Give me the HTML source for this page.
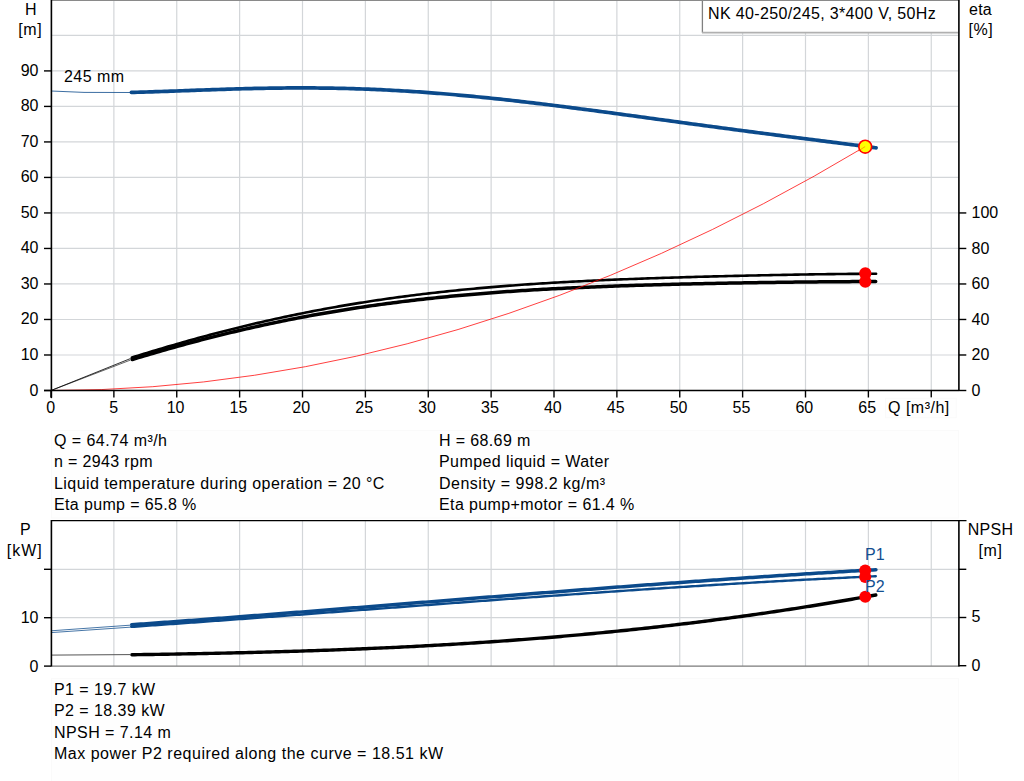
<!DOCTYPE html>
<html><head><meta charset="utf-8"><style>
html,body{margin:0;padding:0;background:#fff;}
svg{display:block;font-family:"Liberation Sans",sans-serif;}
</style></head><body>
<svg width="1024" height="781" viewBox="0 0 1024 781">
<rect x="0" y="0" width="1024" height="781" fill="#fff"/>
<line x1="113.88" y1="0" x2="113.88" y2="390" stroke="#d3d6d9" stroke-width="1.2"/>
<line x1="176.75" y1="0" x2="176.75" y2="390" stroke="#d3d6d9" stroke-width="1.2"/>
<line x1="239.62" y1="0" x2="239.62" y2="390" stroke="#d3d6d9" stroke-width="1.2"/>
<line x1="302.50" y1="0" x2="302.50" y2="390" stroke="#d3d6d9" stroke-width="1.2"/>
<line x1="365.38" y1="0" x2="365.38" y2="390" stroke="#d3d6d9" stroke-width="1.2"/>
<line x1="428.25" y1="0" x2="428.25" y2="390" stroke="#d3d6d9" stroke-width="1.2"/>
<line x1="491.12" y1="0" x2="491.12" y2="390" stroke="#d3d6d9" stroke-width="1.2"/>
<line x1="554.00" y1="0" x2="554.00" y2="390" stroke="#d3d6d9" stroke-width="1.2"/>
<line x1="616.88" y1="0" x2="616.88" y2="390" stroke="#d3d6d9" stroke-width="1.2"/>
<line x1="679.75" y1="0" x2="679.75" y2="390" stroke="#d3d6d9" stroke-width="1.2"/>
<line x1="742.62" y1="0" x2="742.62" y2="390" stroke="#d3d6d9" stroke-width="1.2"/>
<line x1="805.50" y1="0" x2="805.50" y2="390" stroke="#d3d6d9" stroke-width="1.2"/>
<line x1="868.38" y1="0" x2="868.38" y2="390" stroke="#d3d6d9" stroke-width="1.2"/>
<line x1="931.25" y1="0" x2="931.25" y2="390" stroke="#d3d6d9" stroke-width="1.2"/>
<line x1="51" y1="354.99" x2="958.5" y2="354.99" stroke="#d3d6d9" stroke-width="1.2"/>
<line x1="51" y1="319.48" x2="958.5" y2="319.48" stroke="#d3d6d9" stroke-width="1.2"/>
<line x1="51" y1="283.97" x2="958.5" y2="283.97" stroke="#d3d6d9" stroke-width="1.2"/>
<line x1="51" y1="248.46" x2="958.5" y2="248.46" stroke="#d3d6d9" stroke-width="1.2"/>
<line x1="51" y1="212.95" x2="958.5" y2="212.95" stroke="#d3d6d9" stroke-width="1.2"/>
<line x1="51" y1="177.44" x2="958.5" y2="177.44" stroke="#d3d6d9" stroke-width="1.2"/>
<line x1="51" y1="141.93" x2="958.5" y2="141.93" stroke="#d3d6d9" stroke-width="1.2"/>
<line x1="51" y1="106.42" x2="958.5" y2="106.42" stroke="#d3d6d9" stroke-width="1.2"/>
<line x1="51" y1="70.91" x2="958.5" y2="70.91" stroke="#d3d6d9" stroke-width="1.2"/>
<line x1="51" y1="35.40" x2="958.5" y2="35.40" stroke="#d3d6d9" stroke-width="1.2"/>
<line x1="51" y1="0.3" x2="959" y2="0.3" stroke="#8a8a8a" stroke-width="1.2"/>
<rect x="702.4" y="-2" width="256" height="34.8" fill="#fff" stroke="none"/>
<line x1="702.4" y1="0" x2="702.4" y2="32.7" stroke="#808080" stroke-width="1.3"/>
<line x1="702" y1="0.3" x2="959" y2="0.3" stroke="#8a8a8a" stroke-width="1.2"/>
<line x1="702" y1="32.7" x2="958" y2="32.7" stroke="#b0b0b0" stroke-width="1.8"/>
<polyline points="51,91 84,92.4 130,92.5" fill="none" stroke="#0b4a8b" stroke-width="1" opacity="0.8"/>
<polyline points="131.40,92.39 134.40,92.32 137.40,92.24 140.40,92.16 143.40,92.08 146.40,91.99 149.40,91.90 152.40,91.80 155.40,91.71 158.40,91.61 161.40,91.51 164.40,91.40 167.40,91.30 170.40,91.19 173.40,91.09 176.40,90.98 179.40,90.87 182.40,90.76 185.40,90.65 188.40,90.54 191.40,90.43 194.40,90.32 197.40,90.21 200.40,90.10 203.40,90.00 206.40,89.89 209.40,89.79 212.40,89.68 215.40,89.58 218.40,89.48 221.40,89.38 224.40,89.28 227.40,89.19 230.40,89.10 233.40,89.01 236.40,88.92 239.40,88.84 242.40,88.76 245.40,88.68 248.40,88.61 251.40,88.53 254.40,88.47 257.40,88.40 260.40,88.34 263.40,88.28 266.40,88.23 269.40,88.18 272.40,88.14 275.40,88.10 278.40,88.06 281.40,88.03 284.40,88.00 287.40,87.97 290.40,87.96 293.40,87.94 296.40,87.93 299.40,87.93 302.40,87.92 305.40,87.93 308.40,87.94 311.40,87.95 314.40,87.97 317.40,88.00 320.40,88.03 323.40,88.06 326.40,88.10 329.40,88.14 332.40,88.19 335.40,88.25 338.40,88.31 341.40,88.38 344.40,88.45 347.40,88.52 350.40,88.60 353.40,88.69 356.40,88.78 359.40,88.88 362.40,88.99 365.40,89.09 368.40,89.21 371.40,89.33 374.40,89.45 377.40,89.58 380.40,89.72 383.40,89.86 386.40,90.01 389.40,90.16 392.40,90.31 395.40,90.48 398.40,90.64 401.40,90.82 404.40,90.99 407.40,91.18 410.40,91.37 413.40,91.56 416.40,91.76 419.40,91.96 422.40,92.17 425.40,92.38 428.40,92.60 431.40,92.82 434.40,93.05 437.40,93.29 440.40,93.52 443.40,93.77 446.40,94.01 449.40,94.26 452.40,94.52 455.40,94.78 458.40,95.05 461.40,95.32 464.40,95.59 467.40,95.87 470.40,96.15 473.40,96.44 476.40,96.73 479.40,97.02 482.40,97.32 485.40,97.62 488.40,97.93 491.40,98.24 494.40,98.55 497.40,98.87 500.40,99.19 503.40,99.52 506.40,99.85 509.40,100.18 512.40,100.51 515.40,100.85 518.40,101.19 521.40,101.54 524.40,101.88 527.40,102.23 530.40,102.59 533.40,102.94 536.40,103.30 539.40,103.66 542.40,104.03 545.40,104.40 548.40,104.76 551.40,105.14 554.40,105.51 557.40,105.89 560.40,106.26 563.40,106.64 566.40,107.03 569.40,107.41 572.40,107.80 575.40,108.18 578.40,108.57 581.40,108.96 584.40,109.36 587.40,109.75 590.40,110.15 593.40,110.54 596.40,110.94 599.40,111.34 602.40,111.74 605.40,112.14 608.40,112.54 611.40,112.95 614.40,113.35 617.40,113.76 620.40,114.16 623.40,114.57 626.40,114.98 629.40,115.38 632.40,115.79 635.40,116.20 638.40,116.61 641.40,117.02 644.40,117.43 647.40,117.84 650.40,118.25 653.40,118.66 656.40,119.07 659.40,119.47 662.40,119.88 665.40,120.29 668.40,120.70 671.40,121.11 674.40,121.52 677.40,121.93 680.40,122.34 683.40,122.74 686.40,123.15 689.40,123.56 692.40,123.97 695.40,124.37 698.40,124.78 701.40,125.18 704.40,125.58 707.40,125.99 710.40,126.39 713.40,126.79 716.40,127.19 719.40,127.59 722.40,127.99 725.40,128.39 728.40,128.79 731.40,129.19 734.40,129.58 737.40,129.98 740.40,130.37 743.40,130.77 746.40,131.16 749.40,131.55 752.40,131.95 755.40,132.34 758.40,132.73 761.40,133.12 764.40,133.50 767.40,133.89 770.40,134.28 773.40,134.67 776.40,135.05 779.40,135.44 782.40,135.82 785.40,136.21 788.40,136.59 791.40,136.97 794.40,137.35 797.40,137.74 800.40,138.12 803.40,138.50 806.40,138.88 809.40,139.26 812.40,139.64 815.40,140.03 818.40,140.41 821.40,140.79 824.40,141.17 827.40,141.55 830.40,141.93 833.40,142.32 836.40,142.70 839.40,143.08 842.40,143.47 845.40,143.85 848.40,144.24 851.40,144.63 854.40,145.01 857.40,145.40 860.40,145.79 863.40,146.19 866.40,146.58 869.40,146.98 872.40,147.38 875.40,147.78 876.10,147.87" fill="none" stroke="#0b4a8b" stroke-width="3.7" stroke-linecap="round" stroke-linejoin="round"/>
<line x1="51" y1="390.5" x2="130.6" y2="358.5" stroke="#000" stroke-width="1" opacity="0.8"/>
<line x1="51" y1="390.5" x2="130.6" y2="360" stroke="#000" stroke-width="1" opacity="0.6"/>
<polyline points="132.30,359.46 135.30,358.55 138.30,357.65 141.30,356.75 144.30,355.85 147.30,354.96 150.30,354.08 153.30,353.20 156.30,352.33 159.30,351.46 162.30,350.60 165.30,349.75 168.30,348.89 171.30,348.05 174.30,347.21 177.30,346.38 180.30,345.55 183.30,344.73 186.30,343.92 189.30,343.11 192.30,342.30 195.30,341.51 198.30,340.72 201.30,339.93 204.30,339.15 207.30,338.38 210.30,337.61 213.30,336.85 216.30,336.10 219.30,335.35 222.30,334.61 225.30,333.88 228.30,333.15 231.30,332.42 234.30,331.71 237.30,331.00 240.30,330.30 243.30,329.60 246.30,328.91 249.30,328.22 252.30,327.55 255.30,326.88 258.30,326.21 261.30,325.55 264.30,324.90 267.30,324.25 270.30,323.62 273.30,322.98 276.30,322.36 279.30,321.74 282.30,321.12 285.30,320.52 288.30,319.91 291.30,319.32 294.30,318.73 297.30,318.15 300.30,317.57 303.30,317.01 306.30,316.44 309.30,315.89 312.30,315.34 315.30,314.79 318.30,314.25 321.30,313.72 324.30,313.20 327.30,312.68 330.30,312.17 333.30,311.66 336.30,311.16 339.30,310.66 342.30,310.18 345.30,309.69 348.30,309.22 351.30,308.75 354.30,308.28 357.30,307.82 360.30,307.37 363.30,306.92 366.30,306.48 369.30,306.05 372.30,305.62 375.30,305.19 378.30,304.78 381.30,304.36 384.30,303.96 387.30,303.56 390.30,303.16 393.30,302.77 396.30,302.39 399.30,302.01 402.30,301.63 405.30,301.27 408.30,300.90 411.30,300.54 414.30,300.19 417.30,299.84 420.30,299.50 423.30,299.17 426.30,298.83 429.30,298.51 432.30,298.18 435.30,297.87 438.30,297.56 441.30,297.25 444.30,296.95 447.30,296.65 450.30,296.35 453.30,296.07 456.30,295.78 459.30,295.50 462.30,295.23 465.30,294.96 468.30,294.69 471.30,294.43 474.30,294.17 477.30,293.92 480.30,293.67 483.30,293.43 486.30,293.19 489.30,292.95 492.30,292.72 495.30,292.49 498.30,292.27 501.30,292.05 504.30,291.83 507.30,291.62 510.30,291.41 513.30,291.20 516.30,291.00 519.30,290.80 522.30,290.61 525.30,290.42 528.30,290.23 531.30,290.05 534.30,289.87 537.30,289.69 540.30,289.51 543.30,289.34 546.30,289.18 549.30,289.01 552.30,288.85 555.30,288.69 558.30,288.53 561.30,288.38 564.30,288.23 567.30,288.08 570.30,287.94 573.30,287.80 576.30,287.66 579.30,287.52 582.30,287.39 585.30,287.26 588.30,287.13 591.30,287.00 594.30,286.88 597.30,286.75 600.30,286.63 603.30,286.52 606.30,286.40 609.30,286.29 612.30,286.18 615.30,286.07 618.30,285.96 621.30,285.86 624.30,285.75 627.30,285.65 630.30,285.55 633.30,285.46 636.30,285.36 639.30,285.27 642.30,285.18 645.30,285.09 648.30,285.00 651.30,284.91 654.30,284.82 657.30,284.74 660.30,284.66 663.30,284.58 666.30,284.50 669.30,284.42 672.30,284.34 675.30,284.27 678.30,284.19 681.30,284.12 684.30,284.05 687.30,283.98 690.30,283.91 693.30,283.84 696.30,283.77 699.30,283.71 702.30,283.64 705.30,283.58 708.30,283.52 711.30,283.46 714.30,283.40 717.30,283.34 720.30,283.28 723.30,283.22 726.30,283.17 729.30,283.11 732.30,283.06 735.30,283.00 738.30,282.95 741.30,282.90 744.30,282.85 747.30,282.80 750.30,282.75 753.30,282.70 756.30,282.65 759.30,282.61 762.30,282.56 765.30,282.52 768.30,282.47 771.30,282.43 774.30,282.39 777.30,282.34 780.30,282.30 783.30,282.26 786.30,282.22 789.30,282.19 792.30,282.15 795.30,282.11 798.30,282.08 801.30,282.04 804.30,282.01 807.30,281.98 810.30,281.95 813.30,281.92 816.30,281.89 819.30,281.86 822.30,281.83 825.30,281.80 828.30,281.78 831.30,281.76 834.30,281.73 837.30,281.71 840.30,281.69 843.30,281.67 846.30,281.65 849.30,281.64 852.30,281.62 855.30,281.61 858.30,281.60 861.30,281.58 864.30,281.58 867.30,281.57 870.30,281.56 873.30,281.56 875.70,281.56" fill="none" stroke="#000" stroke-width="3.5" stroke-linecap="round" stroke-linejoin="round"/>
<polyline points="131.90,357.52 134.90,356.59 137.90,355.66 140.90,354.73 143.90,353.81 146.90,352.89 149.90,351.98 152.90,351.08 155.90,350.18 158.90,349.28 161.90,348.39 164.90,347.50 167.90,346.62 170.90,345.75 173.90,344.88 176.90,344.01 179.90,343.15 182.90,342.30 185.90,341.45 188.90,340.61 191.90,339.77 194.90,338.94 197.90,338.11 200.90,337.30 203.90,336.48 206.90,335.67 209.90,334.87 212.90,334.08 215.90,333.29 218.90,332.51 221.90,331.73 224.90,330.96 227.90,330.19 230.90,329.43 233.90,328.68 236.90,327.94 239.90,327.20 242.90,326.46 245.90,325.74 248.90,325.02 251.90,324.30 254.90,323.59 257.90,322.89 260.90,322.20 263.90,321.51 266.90,320.83 269.90,320.15 272.90,319.48 275.90,318.82 278.90,318.17 281.90,317.52 284.90,316.87 287.90,316.24 290.90,315.61 293.90,314.98 296.90,314.37 299.90,313.76 302.90,313.15 305.90,312.55 308.90,311.96 311.90,311.38 314.90,310.80 317.90,310.23 320.90,309.66 323.90,309.10 326.90,308.55 329.90,308.00 332.90,307.46 335.90,306.93 338.90,306.40 341.90,305.88 344.90,305.37 347.90,304.86 350.90,304.36 353.90,303.86 356.90,303.37 359.90,302.89 362.90,302.41 365.90,301.94 368.90,301.47 371.90,301.01 374.90,300.56 377.90,300.11 380.90,299.67 383.90,299.23 386.90,298.80 389.90,298.38 392.90,297.96 395.90,297.54 398.90,297.14 401.90,296.74 404.90,296.34 407.90,295.95 410.90,295.56 413.90,295.18 416.90,294.81 419.90,294.44 422.90,294.08 425.90,293.72 428.90,293.37 431.90,293.02 434.90,292.68 437.90,292.34 440.90,292.01 443.90,291.68 446.90,291.36 449.90,291.04 452.90,290.73 455.90,290.42 458.90,290.12 461.90,289.82 464.90,289.53 467.90,289.24 470.90,288.96 473.90,288.68 476.90,288.40 479.90,288.13 482.90,287.86 485.90,287.60 488.90,287.35 491.90,287.09 494.90,286.84 497.90,286.60 500.90,286.36 503.90,286.12 506.90,285.89 509.90,285.66 512.90,285.43 515.90,285.21 518.90,284.99 521.90,284.78 524.90,284.57 527.90,284.36 530.90,284.16 533.90,283.96 536.90,283.76 539.90,283.57 542.90,283.38 545.90,283.19 548.90,283.00 551.90,282.82 554.90,282.65 557.90,282.47 560.90,282.30 563.90,282.13 566.90,281.97 569.90,281.80 572.90,281.64 575.90,281.49 578.90,281.33 581.90,281.18 584.90,281.03 587.90,280.88 590.90,280.74 593.90,280.60 596.90,280.46 599.90,280.32 602.90,280.19 605.90,280.05 608.90,279.92 611.90,279.80 614.90,279.67 617.90,279.55 620.90,279.42 623.90,279.30 626.90,279.18 629.90,279.07 632.90,278.95 635.90,278.84 638.90,278.73 641.90,278.62 644.90,278.51 647.90,278.41 650.90,278.30 653.90,278.20 656.90,278.10 659.90,278.00 662.90,277.90 665.90,277.80 668.90,277.71 671.90,277.61 674.90,277.52 677.90,277.43 680.90,277.34 683.90,277.25 686.90,277.16 689.90,277.08 692.90,276.99 695.90,276.91 698.90,276.82 701.90,276.74 704.90,276.66 707.90,276.58 710.90,276.50 713.90,276.42 716.90,276.35 719.90,276.27 722.90,276.19 725.90,276.12 728.90,276.05 731.90,275.97 734.90,275.90 737.90,275.83 740.90,275.76 743.90,275.69 746.90,275.63 749.90,275.56 752.90,275.49 755.90,275.43 758.90,275.36 761.90,275.30 764.90,275.24 767.90,275.18 770.90,275.12 773.90,275.06 776.90,275.00 779.90,274.94 782.90,274.88 785.90,274.83 788.90,274.77 791.90,274.72 794.90,274.66 797.90,274.61 800.90,274.56 803.90,274.51 806.90,274.46 809.90,274.41 812.90,274.37 815.90,274.32 818.90,274.28 821.90,274.23 824.90,274.19 827.90,274.15 830.90,274.11 833.90,274.08 836.90,274.04 839.90,274.00 842.90,273.97 845.90,273.94 848.90,273.91 851.90,273.88 854.90,273.85 857.90,273.83 860.90,273.81 863.90,273.79 866.90,273.77 869.90,273.75 872.90,273.73 875.90,273.72 876.10,273.72" fill="none" stroke="#000" stroke-width="2.6" stroke-linecap="round" stroke-linejoin="round"/>
<path d="M51,390.5 Q458.05,390.5 865.11,146.58" fill="none" stroke="#ff0000" stroke-width="0.75"/>
<circle cx="865.3" cy="273.4" r="6.1" fill="#ff0000"/>
<circle cx="865.3" cy="281.6" r="6.1" fill="#ff0000"/>
<circle cx="865.2" cy="146.7" r="6.4" fill="#ffff00" stroke="#ff0000" stroke-width="1.6"/>
<path d="M858.11,151.08 L865.11,146.58" stroke="#ff6000" stroke-width="0.8" opacity="0.7"/>
<line x1="51.4" y1="0" x2="51.4" y2="397.5" stroke="#000" stroke-width="1.6" stroke-linecap="round"/>
<line x1="44" y1="390.45" x2="959" y2="390.45" stroke="#000" stroke-width="1.4"/>
<line x1="958.9" y1="0" x2="958.9" y2="390.5" stroke="#000" stroke-width="1.6"/>
<line x1="44" y1="390.50" x2="51" y2="390.50" stroke="#000" stroke-width="1.4"/>
<line x1="44" y1="354.99" x2="51" y2="354.99" stroke="#000" stroke-width="1.4"/>
<line x1="44" y1="319.48" x2="51" y2="319.48" stroke="#000" stroke-width="1.4"/>
<line x1="44" y1="283.97" x2="51" y2="283.97" stroke="#000" stroke-width="1.4"/>
<line x1="44" y1="248.46" x2="51" y2="248.46" stroke="#000" stroke-width="1.4"/>
<line x1="44" y1="212.95" x2="51" y2="212.95" stroke="#000" stroke-width="1.4"/>
<line x1="44" y1="177.44" x2="51" y2="177.44" stroke="#000" stroke-width="1.4"/>
<line x1="44" y1="141.93" x2="51" y2="141.93" stroke="#000" stroke-width="1.4"/>
<line x1="44" y1="106.42" x2="51" y2="106.42" stroke="#000" stroke-width="1.4"/>
<line x1="44" y1="70.91" x2="51" y2="70.91" stroke="#000" stroke-width="1.4"/>
<line x1="959" y1="390.50" x2="966.3" y2="390.50" stroke="#000" stroke-width="1.4"/>
<line x1="959" y1="354.99" x2="966.3" y2="354.99" stroke="#000" stroke-width="1.4"/>
<line x1="959" y1="319.48" x2="966.3" y2="319.48" stroke="#000" stroke-width="1.4"/>
<line x1="959" y1="283.97" x2="966.3" y2="283.97" stroke="#000" stroke-width="1.4"/>
<line x1="959" y1="248.46" x2="966.3" y2="248.46" stroke="#000" stroke-width="1.4"/>
<line x1="959" y1="212.95" x2="966.3" y2="212.95" stroke="#000" stroke-width="1.4"/>
<line x1="51.00" y1="390.5" x2="51.00" y2="397.5" stroke="#000" stroke-width="1.4"/>
<line x1="113.88" y1="390.5" x2="113.88" y2="397.5" stroke="#000" stroke-width="1.4"/>
<line x1="176.75" y1="390.5" x2="176.75" y2="397.5" stroke="#000" stroke-width="1.4"/>
<line x1="239.62" y1="390.5" x2="239.62" y2="397.5" stroke="#000" stroke-width="1.4"/>
<line x1="302.50" y1="390.5" x2="302.50" y2="397.5" stroke="#000" stroke-width="1.4"/>
<line x1="365.38" y1="390.5" x2="365.38" y2="397.5" stroke="#000" stroke-width="1.4"/>
<line x1="428.25" y1="390.5" x2="428.25" y2="397.5" stroke="#000" stroke-width="1.4"/>
<line x1="491.12" y1="390.5" x2="491.12" y2="397.5" stroke="#000" stroke-width="1.4"/>
<line x1="554.00" y1="390.5" x2="554.00" y2="397.5" stroke="#000" stroke-width="1.4"/>
<line x1="616.88" y1="390.5" x2="616.88" y2="397.5" stroke="#000" stroke-width="1.4"/>
<line x1="679.75" y1="390.5" x2="679.75" y2="397.5" stroke="#000" stroke-width="1.4"/>
<line x1="742.62" y1="390.5" x2="742.62" y2="397.5" stroke="#000" stroke-width="1.4"/>
<line x1="805.50" y1="390.5" x2="805.50" y2="397.5" stroke="#000" stroke-width="1.4"/>
<line x1="868.38" y1="390.5" x2="868.38" y2="397.5" stroke="#000" stroke-width="1.4"/>
<line x1="931.25" y1="390.5" x2="931.25" y2="397.5" stroke="#000" stroke-width="1.4"/>
<line x1="113.88" y1="520.5" x2="113.88" y2="666" stroke="#d3d6d9" stroke-width="1.2"/>
<line x1="176.75" y1="520.5" x2="176.75" y2="666" stroke="#d3d6d9" stroke-width="1.2"/>
<line x1="239.62" y1="520.5" x2="239.62" y2="666" stroke="#d3d6d9" stroke-width="1.2"/>
<line x1="302.50" y1="520.5" x2="302.50" y2="666" stroke="#d3d6d9" stroke-width="1.2"/>
<line x1="365.38" y1="520.5" x2="365.38" y2="666" stroke="#d3d6d9" stroke-width="1.2"/>
<line x1="428.25" y1="520.5" x2="428.25" y2="666" stroke="#d3d6d9" stroke-width="1.2"/>
<line x1="491.12" y1="520.5" x2="491.12" y2="666" stroke="#d3d6d9" stroke-width="1.2"/>
<line x1="554.00" y1="520.5" x2="554.00" y2="666" stroke="#d3d6d9" stroke-width="1.2"/>
<line x1="616.88" y1="520.5" x2="616.88" y2="666" stroke="#d3d6d9" stroke-width="1.2"/>
<line x1="679.75" y1="520.5" x2="679.75" y2="666" stroke="#d3d6d9" stroke-width="1.2"/>
<line x1="742.62" y1="520.5" x2="742.62" y2="666" stroke="#d3d6d9" stroke-width="1.2"/>
<line x1="805.50" y1="520.5" x2="805.50" y2="666" stroke="#d3d6d9" stroke-width="1.2"/>
<line x1="868.38" y1="520.5" x2="868.38" y2="666" stroke="#d3d6d9" stroke-width="1.2"/>
<line x1="931.25" y1="520.5" x2="931.25" y2="666" stroke="#d3d6d9" stroke-width="1.2"/>
<line x1="51" y1="617.70" x2="958.5" y2="617.70" stroke="#d3d6d9" stroke-width="1.2"/>
<line x1="51" y1="569.30" x2="958.5" y2="569.30" stroke="#d3d6d9" stroke-width="1.2"/>
<line x1="51" y1="666.1" x2="959" y2="666.1" stroke="#7a7a7a" stroke-width="1.2"/>
<line x1="51" y1="520.6" x2="966.5" y2="520.6" stroke="#000" stroke-width="1.3"/>
<line x1="51" y1="655.1" x2="130" y2="654.6" stroke="#555" stroke-width="1"/>
<polyline points="131.90,654.75 134.90,654.70 137.90,654.66 140.90,654.61 143.90,654.57 146.90,654.52 149.90,654.48 152.90,654.43 155.90,654.38 158.90,654.33 161.90,654.28 164.90,654.24 167.90,654.19 170.90,654.13 173.90,654.08 176.90,654.03 179.90,653.98 182.90,653.92 185.90,653.87 188.90,653.82 191.90,653.76 194.90,653.70 197.90,653.65 200.90,653.59 203.90,653.53 206.90,653.47 209.90,653.41 212.90,653.35 215.90,653.28 218.90,653.22 221.90,653.16 224.90,653.09 227.90,653.02 230.90,652.96 233.90,652.89 236.90,652.82 239.90,652.75 242.90,652.68 245.90,652.61 248.90,652.53 251.90,652.46 254.90,652.38 257.90,652.31 260.90,652.23 263.90,652.15 266.90,652.07 269.90,651.99 272.90,651.91 275.90,651.82 278.90,651.74 281.90,651.65 284.90,651.56 287.90,651.47 290.90,651.38 293.90,651.29 296.90,651.20 299.90,651.11 302.90,651.01 305.90,650.91 308.90,650.82 311.90,650.72 314.90,650.62 317.90,650.52 320.90,650.41 323.90,650.31 326.90,650.20 329.90,650.09 332.90,649.98 335.90,649.87 338.90,649.76 341.90,649.65 344.90,649.53 347.90,649.41 350.90,649.30 353.90,649.18 356.90,649.05 359.90,648.93 362.90,648.81 365.90,648.68 368.90,648.55 371.90,648.42 374.90,648.29 377.90,648.16 380.90,648.02 383.90,647.89 386.90,647.75 389.90,647.61 392.90,647.47 395.90,647.33 398.90,647.18 401.90,647.03 404.90,646.89 407.90,646.74 410.90,646.58 413.90,646.43 416.90,646.27 419.90,646.12 422.90,645.96 425.90,645.80 428.90,645.63 431.90,645.47 434.90,645.30 437.90,645.13 440.90,644.96 443.90,644.79 446.90,644.62 449.90,644.44 452.90,644.26 455.90,644.08 458.90,643.90 461.90,643.71 464.90,643.53 467.90,643.34 470.90,643.15 473.90,642.96 476.90,642.76 479.90,642.56 482.90,642.37 485.90,642.16 488.90,641.96 491.90,641.76 494.90,641.55 497.90,641.34 500.90,641.13 503.90,640.91 506.90,640.70 509.90,640.48 512.90,640.26 515.90,640.04 518.90,639.81 521.90,639.59 524.90,639.36 527.90,639.13 530.90,638.89 533.90,638.66 536.90,638.42 539.90,638.18 542.90,637.94 545.90,637.69 548.90,637.45 551.90,637.20 554.90,636.95 557.90,636.69 560.90,636.44 563.90,636.18 566.90,635.92 569.90,635.65 572.90,635.39 575.90,635.12 578.90,634.85 581.90,634.57 584.90,634.30 587.90,634.02 590.90,633.74 593.90,633.46 596.90,633.17 599.90,632.89 602.90,632.60 605.90,632.30 608.90,632.01 611.90,631.71 614.90,631.41 617.90,631.11 620.90,630.80 623.90,630.50 626.90,630.19 629.90,629.87 632.90,629.56 635.90,629.24 638.90,628.92 641.90,628.60 644.90,628.27 647.90,627.94 650.90,627.61 653.90,627.28 656.90,626.95 659.90,626.61 662.90,626.27 665.90,625.92 668.90,625.58 671.90,625.23 674.90,624.88 677.90,624.52 680.90,624.16 683.90,623.81 686.90,623.44 689.90,623.08 692.90,622.71 695.90,622.34 698.90,621.97 701.90,621.59 704.90,621.21 707.90,620.83 710.90,620.45 713.90,620.06 716.90,619.67 719.90,619.28 722.90,618.88 725.90,618.49 728.90,618.09 731.90,617.68 734.90,617.28 737.90,616.87 740.90,616.46 743.90,616.04 746.90,615.62 749.90,615.20 752.90,614.78 755.90,614.36 758.90,613.93 761.90,613.50 764.90,613.06 767.90,612.62 770.90,612.18 773.90,611.74 776.90,611.30 779.90,610.85 782.90,610.40 785.90,609.94 788.90,609.48 791.90,609.02 794.90,608.56 797.90,608.10 800.90,607.63 803.90,607.15 806.90,606.68 809.90,606.20 812.90,605.72 815.90,605.24 818.90,604.75 821.90,604.26 824.90,603.77 827.90,603.27 830.90,602.78 833.90,602.28 836.90,601.77 839.90,601.26 842.90,600.75 845.90,600.24 848.90,599.72 851.90,599.21 854.90,598.68 857.90,598.16 860.90,597.63 863.90,597.10 866.90,596.57 869.90,596.03 872.90,595.49 875.80,594.96" fill="none" stroke="#000" stroke-width="3.4" stroke-linecap="round" stroke-linejoin="round"/>
<line x1="51" y1="630.8" x2="130" y2="625.2" stroke="#0b4a8b" stroke-width="1" opacity="0.75"/>
<line x1="51" y1="632.6" x2="130" y2="627.2" stroke="#0b4a8b" stroke-width="1" opacity="0.75"/>
<polyline points="131.20,626.88 134.20,626.68 137.20,626.47 140.20,626.26 143.20,626.05 146.20,625.84 149.20,625.63 152.20,625.42 155.20,625.21 158.20,625.00 161.20,624.79 164.20,624.58 167.20,624.36 170.20,624.15 173.20,623.94 176.20,623.72 179.20,623.51 182.20,623.29 185.20,623.08 188.20,622.86 191.20,622.65 194.20,622.43 197.20,622.22 200.20,622.00 203.20,621.78 206.20,621.56 209.20,621.35 212.20,621.13 215.20,620.91 218.20,620.69 221.20,620.47 224.20,620.25 227.20,620.03 230.20,619.81 233.20,619.59 236.20,619.37 239.20,619.15 242.20,618.93 245.20,618.71 248.20,618.48 251.20,618.26 254.20,618.04 257.20,617.82 260.20,617.59 263.20,617.37 266.20,617.15 269.20,616.92 272.20,616.70 275.20,616.48 278.20,616.25 281.20,616.03 284.20,615.80 287.20,615.58 290.20,615.35 293.20,615.13 296.20,614.90 299.20,614.68 302.20,614.45 305.20,614.23 308.20,614.00 311.20,613.78 314.20,613.55 317.20,613.32 320.20,613.10 323.20,612.87 326.20,612.65 329.20,612.42 332.20,612.19 335.20,611.97 338.20,611.74 341.20,611.51 344.20,611.29 347.20,611.06 350.20,610.83 353.20,610.60 356.20,610.38 359.20,610.15 362.20,609.92 365.20,609.70 368.20,609.47 371.20,609.24 374.20,609.01 377.20,608.79 380.20,608.56 383.20,608.33 386.20,608.11 389.20,607.88 392.20,607.65 395.20,607.43 398.20,607.20 401.20,606.97 404.20,606.75 407.20,606.52 410.20,606.29 413.20,606.07 416.20,605.84 419.20,605.61 422.20,605.39 425.20,605.16 428.20,604.94 431.20,604.71 434.20,604.49 437.20,604.26 440.20,604.03 443.20,603.81 446.20,603.58 449.20,603.36 452.20,603.14 455.20,602.91 458.20,602.69 461.20,602.46 464.20,602.24 467.20,602.02 470.20,601.79 473.20,601.57 476.20,601.35 479.20,601.12 482.20,600.90 485.20,600.68 488.20,600.46 491.20,600.23 494.20,600.01 497.20,599.79 500.20,599.57 503.20,599.35 506.20,599.13 509.20,598.91 512.20,598.69 515.20,598.47 518.20,598.25 521.20,598.03 524.20,597.81 527.20,597.60 530.20,597.38 533.20,597.16 536.20,596.94 539.20,596.73 542.20,596.51 545.20,596.29 548.20,596.08 551.20,595.86 554.20,595.65 557.20,595.43 560.20,595.22 563.20,595.01 566.20,594.79 569.20,594.58 572.20,594.37 575.20,594.16 578.20,593.95 581.20,593.73 584.20,593.52 587.20,593.31 590.20,593.10 593.20,592.90 596.20,592.69 599.20,592.48 602.20,592.27 605.20,592.06 608.20,591.86 611.20,591.65 614.20,591.44 617.20,591.24 620.20,591.04 623.20,590.83 626.20,590.63 629.20,590.42 632.20,590.22 635.20,590.02 638.20,589.82 641.20,589.62 644.20,589.42 647.20,589.22 650.20,589.02 653.20,588.82 656.20,588.62 659.20,588.43 662.20,588.23 665.20,588.04 668.20,587.84 671.20,587.65 674.20,587.45 677.20,587.26 680.20,587.07 683.20,586.87 686.20,586.68 689.20,586.49 692.20,586.30 695.20,586.11 698.20,585.93 701.20,585.74 704.20,585.55 707.20,585.36 710.20,585.18 713.20,584.99 716.20,584.81 719.20,584.63 722.20,584.44 725.20,584.26 728.20,584.08 731.20,583.90 734.20,583.72 737.20,583.54 740.20,583.36 743.20,583.19 746.20,583.01 749.20,582.84 752.20,582.66 755.20,582.49 758.20,582.31 761.20,582.14 764.20,581.97 767.20,581.80 770.20,581.63 773.20,581.46 776.20,581.29 779.20,581.13 782.20,580.96 785.20,580.79 788.20,580.63 791.20,580.47 794.20,580.30 797.20,580.14 800.20,579.98 803.20,579.82 806.20,579.66 809.20,579.51 812.20,579.35 815.20,579.19 818.20,579.04 821.20,578.88 824.20,578.73 827.20,578.58 830.20,578.43 833.20,578.28 836.20,578.13 839.20,577.98 842.20,577.83 845.20,577.68 848.20,577.54 851.20,577.40 854.20,577.25 857.20,577.11 860.20,576.97 863.20,576.83 866.20,576.69 869.20,576.55 872.20,576.42 875.20,576.28 875.80,576.25" fill="none" stroke="#0b4a8b" stroke-width="2.4" stroke-linecap="round" stroke-linejoin="round"/>
<polyline points="131.70,624.74 134.70,624.52 137.70,624.31 140.70,624.10 143.70,623.88 146.70,623.67 149.70,623.45 152.70,623.24 155.70,623.02 158.70,622.80 161.70,622.58 164.70,622.37 167.70,622.15 170.70,621.93 173.70,621.71 176.70,621.49 179.70,621.27 182.70,621.05 185.70,620.82 188.70,620.60 191.70,620.38 194.70,620.16 197.70,619.93 200.70,619.71 203.70,619.48 206.70,619.26 209.70,619.04 212.70,618.81 215.70,618.58 218.70,618.36 221.70,618.13 224.70,617.90 227.70,617.68 230.70,617.45 233.70,617.22 236.70,616.99 239.70,616.76 242.70,616.53 245.70,616.30 248.70,616.07 251.70,615.84 254.70,615.61 257.70,615.38 260.70,615.15 263.70,614.92 266.70,614.69 269.70,614.46 272.70,614.22 275.70,613.99 278.70,613.76 281.70,613.52 284.70,613.29 287.70,613.06 290.70,612.82 293.70,612.59 296.70,612.35 299.70,612.12 302.70,611.88 305.70,611.65 308.70,611.41 311.70,611.18 314.70,610.94 317.70,610.71 320.70,610.47 323.70,610.23 326.70,610.00 329.70,609.76 332.70,609.52 335.70,609.29 338.70,609.05 341.70,608.81 344.70,608.57 347.70,608.34 350.70,608.10 353.70,607.86 356.70,607.62 359.70,607.38 362.70,607.15 365.70,606.91 368.70,606.67 371.70,606.43 374.70,606.19 377.70,605.95 380.70,605.71 383.70,605.47 386.70,605.23 389.70,605.00 392.70,604.76 395.70,604.52 398.70,604.28 401.70,604.04 404.70,603.80 407.70,603.56 410.70,603.32 413.70,603.08 416.70,602.84 419.70,602.60 422.70,602.36 425.70,602.12 428.70,601.88 431.70,601.64 434.70,601.41 437.70,601.17 440.70,600.93 443.70,600.69 446.70,600.45 449.70,600.21 452.70,599.97 455.70,599.73 458.70,599.49 461.70,599.25 464.70,599.02 467.70,598.78 470.70,598.54 473.70,598.30 476.70,598.06 479.70,597.82 482.70,597.59 485.70,597.35 488.70,597.11 491.70,596.87 494.70,596.63 497.70,596.40 500.70,596.16 503.70,595.92 506.70,595.69 509.70,595.45 512.70,595.21 515.70,594.98 518.70,594.74 521.70,594.50 524.70,594.27 527.70,594.03 530.70,593.80 533.70,593.56 536.70,593.33 539.70,593.09 542.70,592.86 545.70,592.63 548.70,592.39 551.70,592.16 554.70,591.92 557.70,591.69 560.70,591.46 563.70,591.23 566.70,590.99 569.70,590.76 572.70,590.53 575.70,590.30 578.70,590.07 581.70,589.84 584.70,589.61 587.70,589.38 590.70,589.15 593.70,588.92 596.70,588.69 599.70,588.46 602.70,588.23 605.70,588.00 608.70,587.78 611.70,587.55 614.70,587.32 617.70,587.10 620.70,586.87 623.70,586.64 626.70,586.42 629.70,586.19 632.70,585.97 635.70,585.75 638.70,585.52 641.70,585.30 644.70,585.08 647.70,584.85 650.70,584.63 653.70,584.41 656.70,584.19 659.70,583.97 662.70,583.75 665.70,583.53 668.70,583.31 671.70,583.09 674.70,582.88 677.70,582.66 680.70,582.44 683.70,582.22 686.70,582.01 689.70,581.79 692.70,581.58 695.70,581.36 698.70,581.15 701.70,580.94 704.70,580.73 707.70,580.51 710.70,580.30 713.70,580.09 716.70,579.88 719.70,579.67 722.70,579.46 725.70,579.25 728.70,579.05 731.70,578.84 734.70,578.63 737.70,578.43 740.70,578.22 743.70,578.02 746.70,577.81 749.70,577.61 752.70,577.40 755.70,577.20 758.70,577.00 761.70,576.80 764.70,576.60 767.70,576.40 770.70,576.20 773.70,576.00 776.70,575.81 779.70,575.61 782.70,575.41 785.70,575.22 788.70,575.02 791.70,574.83 794.70,574.64 797.70,574.44 800.70,574.25 803.70,574.06 806.70,573.87 809.70,573.68 812.70,573.49 815.70,573.31 818.70,573.12 821.70,572.93 824.70,572.75 827.70,572.56 830.70,572.38 833.70,572.20 836.70,572.01 839.70,571.83 842.70,571.65 845.70,571.47 848.70,571.29 851.70,571.12 854.70,570.94 857.70,570.76 860.70,570.59 863.70,570.41 866.70,570.24 869.70,570.07 872.70,569.89 875.70,569.72 875.90,569.71" fill="none" stroke="#0b4a8b" stroke-width="3.5" stroke-linecap="round" stroke-linejoin="round"/>
<circle cx="865.2" cy="570.4" r="6" fill="#ff0000"/>
<circle cx="865.2" cy="576.9" r="6" fill="#ff0000"/>
<circle cx="865.3" cy="596.7" r="6" fill="#ff0000"/>
<line x1="51.4" y1="520" x2="51.4" y2="666.5" stroke="#000" stroke-width="1.6"/>
<line x1="958.9" y1="520" x2="958.9" y2="666.5" stroke="#000" stroke-width="1.6"/>
<line x1="44" y1="666.10" x2="51" y2="666.10" stroke="#000" stroke-width="1.4"/>
<line x1="44" y1="617.70" x2="51" y2="617.70" stroke="#000" stroke-width="1.4"/>
<line x1="44" y1="569.30" x2="51" y2="569.30" stroke="#000" stroke-width="1.4"/>
<line x1="959" y1="665.70" x2="966.3" y2="665.70" stroke="#000" stroke-width="1.4"/>
<line x1="959" y1="617.50" x2="966.3" y2="617.50" stroke="#000" stroke-width="1.4"/>
<line x1="959" y1="569.30" x2="966.3" y2="569.30" stroke="#000" stroke-width="1.4"/>
<rect x="51.5" y="430.5" width="907" height="87.5" fill="#fefefe" stroke="#fafafa" stroke-width="1"/>
<rect x="51.5" y="678.5" width="907" height="110" fill="#fefefe" stroke="#fafafa" stroke-width="1"/>
<rect x="885.5" y="398.2" width="70.7" height="19.5" fill="#fefefe" stroke="#fafafa" stroke-width="1"/>
<text x="30.80" y="15.00" text-anchor="middle" fill="#000" font-size="16">H</text>
<text x="30.20" y="35.00" text-anchor="middle" letter-spacing="0.600" fill="#000" font-size="16">[m]</text>
<text x="980.50" y="15.00" text-anchor="middle" letter-spacing="0.200" fill="#000" font-size="16">eta</text>
<text x="980.80" y="35.00" text-anchor="middle" letter-spacing="0.500" fill="#000" font-size="16">[%]</text>
<text x="38.50" y="395.50" text-anchor="end" fill="#000" font-size="16">0</text>
<text x="38.50" y="359.99" text-anchor="end" fill="#000" font-size="16">10</text>
<text x="38.50" y="324.48" text-anchor="end" fill="#000" font-size="16">20</text>
<text x="38.50" y="288.97" text-anchor="end" fill="#000" font-size="16">30</text>
<text x="38.50" y="253.46" text-anchor="end" fill="#000" font-size="16">40</text>
<text x="38.50" y="217.95" text-anchor="end" fill="#000" font-size="16">50</text>
<text x="38.50" y="182.44" text-anchor="end" fill="#000" font-size="16">60</text>
<text x="38.50" y="146.93" text-anchor="end" fill="#000" font-size="16">70</text>
<text x="38.50" y="111.42" text-anchor="end" fill="#000" font-size="16">80</text>
<text x="38.50" y="75.91" text-anchor="end" fill="#000" font-size="16">90</text>
<text x="971.50" y="396.00" fill="#000" font-size="16">0</text>
<text x="971.50" y="360.49" fill="#000" font-size="16">20</text>
<text x="971.50" y="324.98" fill="#000" font-size="16">40</text>
<text x="971.50" y="289.47" fill="#000" font-size="16">60</text>
<text x="971.50" y="253.96" fill="#000" font-size="16">80</text>
<text x="971.50" y="218.45" fill="#000" font-size="16">100</text>
<text x="50.80" y="412.80" text-anchor="middle" fill="#000" font-size="16">0</text>
<text x="113.67" y="412.80" text-anchor="middle" fill="#000" font-size="16">5</text>
<text x="175.55" y="412.80" text-anchor="middle" fill="#000" font-size="16">10</text>
<text x="238.43" y="412.80" text-anchor="middle" fill="#000" font-size="16">15</text>
<text x="301.30" y="412.80" text-anchor="middle" fill="#000" font-size="16">20</text>
<text x="364.18" y="412.80" text-anchor="middle" fill="#000" font-size="16">25</text>
<text x="427.05" y="412.80" text-anchor="middle" fill="#000" font-size="16">30</text>
<text x="489.93" y="412.80" text-anchor="middle" fill="#000" font-size="16">35</text>
<text x="552.80" y="412.80" text-anchor="middle" fill="#000" font-size="16">40</text>
<text x="615.67" y="412.80" text-anchor="middle" fill="#000" font-size="16">45</text>
<text x="678.55" y="412.80" text-anchor="middle" fill="#000" font-size="16">50</text>
<text x="741.42" y="412.80" text-anchor="middle" fill="#000" font-size="16">55</text>
<text x="804.30" y="412.80" text-anchor="middle" fill="#000" font-size="16">60</text>
<text x="867.17" y="412.80" text-anchor="middle" fill="#000" font-size="16">65</text>
<text x="888.00" y="412.60" letter-spacing="0.500" fill="#000" font-size="16">Q [m³/h]</text>
<text x="708.00" y="18.80" letter-spacing="0.350" fill="#000" font-size="16">NK 40-250/245, 3*400 V, 50Hz</text>
<text x="64.00" y="82.00" letter-spacing="0.450" fill="#000" font-size="16">245 mm</text>
<text x="25.30" y="535.00" text-anchor="middle" fill="#000" font-size="16">P</text>
<text x="24.80" y="555.50" text-anchor="middle" letter-spacing="1.000" fill="#000" font-size="16">[kW]</text>
<text x="990.50" y="535.00" text-anchor="middle" letter-spacing="0.300" fill="#000" font-size="16">NPSH</text>
<text x="990.50" y="555.50" text-anchor="middle" letter-spacing="0.600" fill="#000" font-size="16">[m]</text>
<text x="38.50" y="623.20" text-anchor="end" fill="#000" font-size="16">10</text>
<text x="38.50" y="671.60" text-anchor="end" fill="#000" font-size="16">0</text>
<text x="971.50" y="671.20" fill="#000" font-size="16">0</text>
<text x="971.50" y="622.30" fill="#000" font-size="16">5</text>
<text x="865.00" y="559.60" fill="#134f91" font-size="16">P1</text>
<text x="865.00" y="591.50" fill="#134f91" font-size="16">P2</text>
<text x="54.00" y="446.00" letter-spacing="0.450" fill="#000" font-size="16">Q = 64.74 m³/h</text>
<text x="54.00" y="467.33" letter-spacing="0.350" fill="#000" font-size="16">n = 2943 rpm</text>
<text x="54.00" y="488.66" letter-spacing="0.440" fill="#000" font-size="16">Liquid temperature during operation = 20 °C</text>
<text x="54.00" y="509.99" letter-spacing="0.360" fill="#000" font-size="16">Eta pump = 65.8 %</text>
<text x="439.00" y="446.00" letter-spacing="0.370" fill="#000" font-size="16">H = 68.69 m</text>
<text x="439.00" y="467.33" letter-spacing="0.420" fill="#000" font-size="16">Pumped liquid = Water</text>
<text x="439.00" y="488.66" letter-spacing="0.500" fill="#000" font-size="16">Density = 998.2 kg/m³</text>
<text x="439.00" y="509.99" letter-spacing="0.380" fill="#000" font-size="16">Eta pump+motor = 61.4 %</text>
<text x="54.00" y="695.00" letter-spacing="0.430" fill="#000" font-size="16">P1 = 19.7 kW</text>
<text x="54.00" y="716.33" letter-spacing="0.440" fill="#000" font-size="16">P2 = 18.39 kW</text>
<text x="54.00" y="737.66" letter-spacing="0.430" fill="#000" font-size="16">NPSH = 7.14 m</text>
<text x="54.00" y="758.99" letter-spacing="0.510" fill="#000" font-size="16">Max power P2 required along the curve = 18.51 kW</text>
</svg>
</body></html>
